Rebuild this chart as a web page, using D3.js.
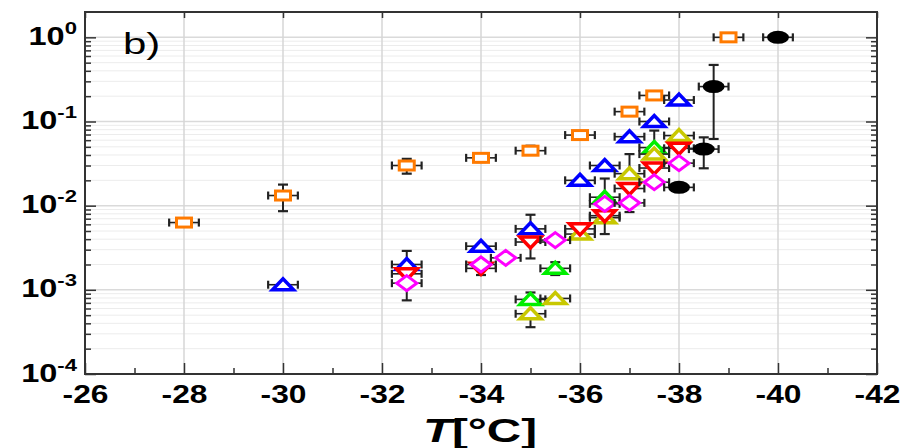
<!DOCTYPE html>
<html><head><meta charset="utf-8">
<script src="https://cdn.jsdelivr.net/npm/d3@7"></script>
<style>body{margin:0;background:#fff}svg{display:block}</style>
</head><body>
<svg id="chart" width="906" height="448"></svg>
<script>
// Axis ticks
const tempTicks = [-26, -28, -30, -32, -34, -36, -38, -40, -42];
const tempMinor = [-27, -29, -31, -33, -35, -37, -39, -41];
const decadeTicks = [1e-4, 1e-3, 1e-2, 1e-1, 1];
const decadeExp = ["-4", "-3", "-2", "-1", "0"];

// Temperature uncertainty (°C), same for every point
const tempErr = 0.3;

// Orange open squares
const sqT  = [-28, -30, -32.5, -34, -35, -36, -37, -37.5, -39];
const sqV  = [0.0063, 0.0132, 0.030, 0.037, 0.045, 0.069, 0.131, 0.204, 1.0];
const sqLo = [0.0058, 0.0086, 0.024, 0.033, 0.041, 0.062, null, null, null];
const sqHi = [0.0068, 0.0178, 0.036, 0.042, 0.0515, 0.076, null, null, null];

// Blue up-triangles
const blT  = [-30, -32.5, -34, -35, -36, -36.5, -37, -37.5, -38];
const blV  = [0.00115, 0.0020, 0.0033, 0.0053, 0.020, 0.030, 0.066, 0.10, 0.18];
const blLo = [null, null, null, null, null, null, null, null, null];
const blHi = [null, 0.0029, null, 0.0078, null, null, null, null, null];

// Green up-triangles
const grT  = [-35, -35.5, -36.5, -37.5];
const grV  = [0.00077, 0.0018, 0.0126, 0.049];
const grLo = [null, 0.0015, null, null];
const grHi = [0.00093, 0.00213, 0.021, 0.078];

// Yellow up-triangles
const yeT  = [-35, -35.5, -36, -36.5, -37, -37.5, -38];
const yeV  = [0.00052, 0.00079, 0.0046, 0.0072, 0.024, 0.041, 0.068];
const yeLo = [0.00036, null, null, null, null, null, null];
const yeHi = [null, null, null, null, 0.041, null, null];

// Red down-triangles
const rdT  = [-32.5, -34, -35, -36, -36.5, -37, -37.5, -38];
const rdV  = [0.00155, 0.0018, 0.0037, 0.0053, 0.0076, 0.0160, 0.0280, 0.048];
const rdLo = [null, 0.0015, 0.00236, null, 0.0046, 0.0084, null, null];
const rdHi = [null, null, null, null, null, null, null, null];

// Magenta diamonds
const mgT  = [-32.5, -34, -34.5, -35.5, -36.5, -37, -37.5, -38];
const mgV  = [0.00120, 0.0020, 0.0024, 0.0039, 0.0105, 0.0108, 0.019, 0.032];
const mgLo = [0.00075, null, null, null, null, null, null, null];
const mgHi = [null, null, null, null, null, null, null, null];

// Black filled ellipses
const bkT  = [-38, -38.5, -38.7, -40];
const bkV  = [0.0165, 0.047, 0.26, 1.0];
const bkLo = [null, 0.0278, 0.062, null];
const bkHi = [null, 0.0648, 0.47, null];

const series = [
  {T: sqT, V: sqV, lo: sqLo, hi: sqHi, color: "#ff7a00", shape: "rect"},
  {T: blT, V: blV, lo: blLo, hi: blHi, color: "#0000ff", shape: "up"},
  {T: grT, V: grV, lo: grLo, hi: grHi, color: "#00ee00", shape: "up"},
  {T: yeT, V: yeV, lo: yeLo, hi: yeHi, color: "#c8c800", shape: "up"},
  {T: rdT, V: rdV, lo: rdLo, hi: rdHi, color: "#ff0000", shape: "down"},
  {T: mgT, V: mgV, lo: mgLo, hi: mgHi, color: "#ff00ff", shape: "diamond"},
  {T: bkT, V: bkV, lo: bkLo, hi: bkHi, color: "#000000", shape: "ellipse"}
];

const L = 85, R = 877, TOP = 12, BOT = 374;
const svg = d3.select("#chart");
const x = d3.scaleLinear().domain([-26, -42]).range([L, R]);
const y = d3.scaleLog().domain([1e-4, 2]).range([BOT, TOP]);
const font = "'Liberation Sans', Arial, sans-serif";

// Grid
const grid = svg.append("g");
const minorVals = [];
decadeTicks.forEach(d => { for (let k = 2; k <= 9; k++) if (d * k < 2) minorVals.push(d * k); });
grid.selectAll("line.hmin").data(minorVals).join("line")
  .attr("x1", L).attr("x2", R).attr("y1", d => y(d)).attr("y2", d => y(d))
  .attr("stroke", "#ececec").attr("stroke-width", 1);
grid.selectAll("line.hmaj").data(decadeTicks).join("line")
  .attr("x1", L).attr("x2", R).attr("y1", d => y(d)).attr("y2", d => y(d))
  .attr("stroke", "#dadada").attr("stroke-width", 1.5);
grid.selectAll("line.v").data(tempTicks.slice(1, -1)).join("line")
  .attr("x1", d => x(d)).attr("x2", d => x(d)).attr("y1", TOP).attr("y2", BOT)
  .attr("stroke", "#d6d6d6").attr("stroke-width", 1.5);

// Axes: ticks point inward on all four sides
const ax = svg.append("g");
const styleTicks = g => {
  g.select(".domain").remove();
  g.selectAll(".tick line").attr("stroke", "#333").attr("stroke-width", 1.5);
};
const gb = ax.append("g").attr("transform", `translate(0,${BOT})`)
  .call(d3.axisBottom(x).tickValues(tempTicks).tickSize(-11).tickFormat(d3.format("d")));
styleTicks(gb);
gb.selectAll(".tick text")
  .attr("y", 0).attr("dy", null).attr("text-anchor", "middle")
  .attr("transform", "translate(0,29) scale(1.22,1)")
  .attr("font-family", font).attr("font-weight", "bold").attr("font-size", 26).attr("fill", "#000")
  .text(d => String(d));
const gbm = ax.append("g").attr("transform", `translate(0,${BOT})`)
  .call(d3.axisBottom(x).tickValues(tempMinor).tickSize(-6).tickFormat(""));
styleTicks(gbm);

const gt = ax.append("g").attr("transform", `translate(0,${TOP})`)
  .call(d3.axisTop(x).tickValues(tempTicks).tickSize(-6).tickFormat(""));
styleTicks(gt);

const gl = ax.append("g").attr("transform", `translate(${L},0)`)
  .call(d3.axisLeft(y).tickValues(decadeTicks).tickSize(-11).tickFormat(""));
styleTicks(gl);
gl.selectAll(".tick").each(function(d, i) {
  const t = d3.select(this).append("text")
    .attr("text-anchor", "end").attr("transform", "translate(-8,7) scale(1.3,1)")
    .attr("font-family", font).attr("font-weight", "bold").attr("font-size", 25).attr("fill", "#000");
  t.append("tspan").text("10");
  t.append("tspan").attr("dy", -11).attr("font-size", 17).text(decadeExp[i]);
});
const glm = ax.append("g").attr("transform", `translate(${L},0)`)
  .call(d3.axisLeft(y).tickValues(minorVals).tickSize(-6).tickFormat(""));
styleTicks(glm);

const gr = ax.append("g").attr("transform", `translate(${R},0)`)
  .call(d3.axisRight(y).tickValues(decadeTicks).tickSize(-11).tickFormat(""));
styleTicks(gr);
const grm = ax.append("g").attr("transform", `translate(${R},0)`)
  .call(d3.axisRight(y).tickValues(minorVals).tickSize(-6).tickFormat(""));
styleTicks(grm);

// Frame
svg.append("rect").attr("x", L).attr("y", TOP).attr("width", R - L).attr("height", BOT - TOP)
  .attr("fill", "none").attr("stroke", "#333").attr("stroke-width", 2);

// Panel label
svg.append("text").attr("transform", "translate(123,54) scale(1.4,1)")
  .attr("font-family", font).attr("font-size", 30).attr("fill", "#000").text("b)");

// Axis title
const title = svg.append("text").attr("transform", "translate(480,442) scale(1.4,1)")
  .attr("text-anchor", "middle")
  .attr("font-family", font).attr("font-weight", "bold").attr("font-size", 34).attr("fill", "#000");
title.append("tspan").attr("font-style", "italic").text("T");
title.append("tspan").text("[°C]");

// Data: error bars, then markers, series by series
function marker(g, shape, cx, cy, color) {
  if (shape === "rect") {
    g.append("rect").attr("x", cx - 7.5).attr("y", cy - 4.5).attr("width", 15).attr("height", 9)
      .attr("fill", "#fff").attr("stroke", color).attr("stroke-width", 3);
  } else if (shape === "up") {
    g.append("path").attr("d", `M${cx - 10.5},${cy + 5}L${cx + 10.5},${cy + 5}L${cx},${cy - 6}Z`)
      .attr("fill", "#fff").attr("stroke", color).attr("stroke-width", 3.5);
  } else if (shape === "down") {
    g.append("path").attr("d", `M${cx - 10.5},${cy - 5}L${cx + 10.5},${cy - 5}L${cx},${cy + 6}Z`)
      .attr("fill", "#fff").attr("stroke", color).attr("stroke-width", 3.5);
  } else if (shape === "diamond") {
    g.append("path").attr("d", `M${cx},${cy - 7.5}L${cx + 10},${cy}L${cx},${cy + 7.5}L${cx - 10},${cy}Z`)
      .attr("fill", "#fff").attr("stroke", color).attr("stroke-width", 3);
  } else {
    g.append("ellipse").attr("cx", cx).attr("cy", cy).attr("rx", 11).attr("ry", 6.5).attr("fill", color);
  }
}

const data = svg.append("g");
series.forEach(s => {
  const g = data.append("g");
  s.T.forEach((t, i) => {
    const cx = x(t), cy = y(s.V[i]);
    const e = g.append("g").attr("stroke", "#222").attr("stroke-width", 1.6).attr("fill", "none");
    const xa = x(t + tempErr), xb = x(t - tempErr);
    e.append("line").attr("x1", xa).attr("x2", xb).attr("y1", cy).attr("y2", cy);
    e.append("line").attr("x1", xa).attr("x2", xa).attr("y1", cy - 4).attr("y2", cy + 4).attr("stroke-width", 2.2);
    e.append("line").attr("x1", xb).attr("x2", xb).attr("y1", cy - 4).attr("y2", cy + 4).attr("stroke-width", 2.2);
    [s.lo[i], s.hi[i]].forEach(b => {
      if (b == null) return;
      const yb = y(b);
      e.append("line").attr("x1", cx).attr("x2", cx).attr("y1", cy).attr("y2", yb).attr("stroke-width", 2);
      e.append("line").attr("x1", cx - 5).attr("x2", cx + 5).attr("y1", yb).attr("y2", yb).attr("stroke-width", 2.2);
    });
    marker(g, s.shape, cx, cy, s.color);
  });
});
</script>
</body></html>
